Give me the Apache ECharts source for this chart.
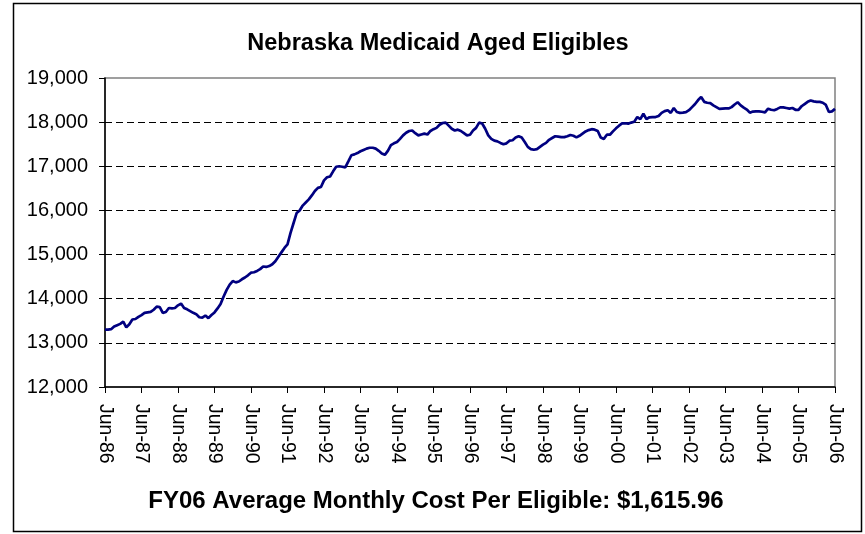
<!DOCTYPE html>
<html>
<head>
<meta charset="utf-8">
<script src="https://cdn.jsdelivr.net/npm/echarts@6/dist/echarts.min.js"></script>
<style>
html,body{margin:0;padding:0;background:#fff;}
#chart{width:865px;height:534px;}
</style>
</head>
<body>
<div id="chart"></div>
<script>
// Monthly eligibles, Jun-86 .. Jun-06 (241 months)
var eligibles = [
13300,13300,13310,13370,13400,13430,13480,13350,13420,13530,13540,13590,
13630,13680,13690,13700,13750,13820,13810,13680,13700,13790,13780,13790,
13850,13890,13790,13760,13720,13680,13650,13580,13570,13620,13560,13630,
13690,13780,13880,14050,14200,14320,14400,14370,14390,14440,14480,14530,
14590,14600,14630,14670,14730,14720,14740,14780,14850,14950,15050,15150,
15230,15490,15715,15940,16000,16110,16180,16250,16340,16440,16510,16530,
16680,16750,16770,16885,16990,17000,16990,16975,17110,17250,17270,17300,
17340,17370,17400,17420,17420,17400,17350,17290,17260,17350,17480,17520,
17550,17620,17700,17760,17800,17810,17750,17700,17720,17740,17720,17800,
17840,17870,17940,17980,17990,17920,17850,17810,17830,17800,17750,17700,
17715,17810,17870,17990,17970,17850,17700,17620,17580,17565,17530,17500,
17520,17580,17590,17650,17680,17650,17550,17440,17390,17375,17390,17440,
17490,17530,17600,17640,17680,17670,17660,17660,17680,17710,17690,17655,
17690,17740,17790,17820,17840,17830,17800,17650,17620,17715,17715,17790,
17860,17920,17970,17975,17965,17990,18010,18115,18070,18190,18070,18110,
18115,18115,18140,18210,18250,18270,18210,18320,18230,18210,18215,18225,
18270,18340,18410,18500,18570,18460,18440,18430,18380,18340,18300,18305,
18310,18310,18340,18400,18450,18380,18330,18285,18215,18240,18245,18245,
18235,18220,18305,18280,18270,18300,18335,18335,18320,18305,18320,18280,
18280,18360,18410,18460,18490,18470,18460,18460,18440,18390,18230,18245,
18300
];
var monthNames = ['Jan','Feb','Mar','Apr','May','Jun','Jul','Aug','Sep','Oct','Nov','Dec'];
var startYear = 1986, startMonth = 5; // June 1986
var categories = [];
for (var i = 0; i < eligibles.length; i++) {
  var mi = startMonth + i;
  var y = startYear + Math.floor(mi / 12);
  categories.push(monthNames[mi % 12] + '-' + String(y % 100).padStart(2, '0'));
}
var titleText = 'Nebraska Medicaid Aged Eligibles';
var footerText = 'FY06 Average Monthly Cost Per Eligible: $1,615.96';
var yMin = 12000, yMax = 19000, yStep = 1000;

var FONT = '"Liberation Sans", Arial, sans-serif';
var chart = echarts.init(document.getElementById('chart'), null, {renderer: 'canvas'});
chart.setOption({
  animation: false,
  backgroundColor: '#ffffff',
  grid: {left: 105, right: 30, top: 78, bottom: 147, show: true, borderColor: '#808080', borderWidth: 1.5},
  xAxis: {
    type: 'category',
    data: categories,
    boundaryGap: false,
    axisLine: {lineStyle: {color: '#000', width: 1.5}},
    axisTick: {show: true, interval: 11, length: 6, lineStyle: {color: '#000'}},
    axisLabel: {interval: 11, rotate: -90, margin: 17, color: '#000', fontSize: 19.5, fontFamily: FONT},
    splitLine: {show: false}
  },
  yAxis: {
    type: 'value',
    min: yMin, max: yMax, interval: yStep,
    axisLine: {show: true, lineStyle: {color: '#000', width: 1.5}},
    axisTick: {show: true, length: 6, lineStyle: {color: '#000'}},
    axisLabel: {margin: 17, color: '#000', fontSize: 20, fontFamily: FONT,
      formatter: function (v) { return v.toString().replace(/\B(?=(\d{3})+(?!\d))/g, ','); }},
    splitLine: {show: true, showMinLine: false, showMaxLine: false, lineStyle: {color: '#000', type: [7, 4], width: 1}}
  },
  series: [{
    type: 'line',
    data: eligibles,
    showSymbol: false,
    symbol: 'none',
    lineStyle: {color: '#000080', width: 2.7},
    itemStyle: {color: '#000080'}
  }],
  graphic: [
    {type: 'rect', shape: {x: 13.5, y: 3.5, width: 848, height: 528}, style: {fill: null, stroke: '#000', lineWidth: 1.5}, z: -1, silent: true},
    {type: 'text', x: 438, y: 44, style: {text: titleText, fill: '#000', font: 'bold 23.5px ' + FONT, textAlign: 'center', textVerticalAlign: 'middle'}},
    {type: 'text', x: 436, y: 501, style: {text: footerText, fill: '#000', font: 'bold 24px ' + FONT, textAlign: 'center', textVerticalAlign: 'middle'}}
  ]
});
</script>
</body>
</html>
